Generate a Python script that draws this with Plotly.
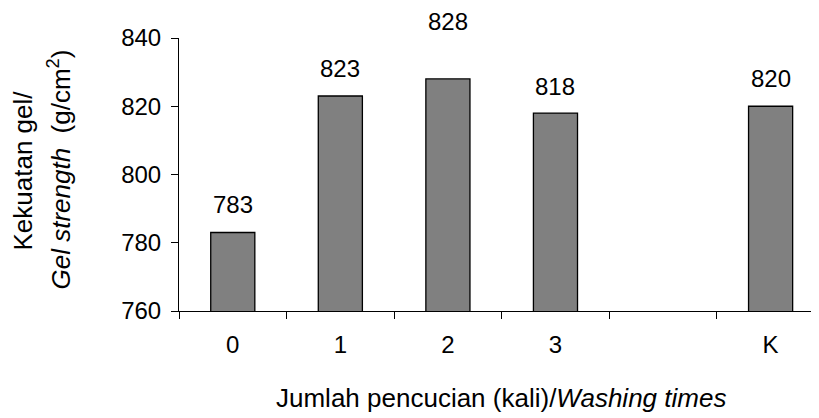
import plotly.graph_objects as go

categories = ["0", "1", "2", "3", " ", "K"]
values = [783, 823, 828, 818, None, 820]
value_labels = ["783", "823", "828", "818", "", "820"]
label_shift = [28, 28, 57, 27, 0, 28]  # style: pixel offset of value labels

y_ticks = [760, 780, 800, 820, 840]

FONT = "Liberation Sans, Arial, sans-serif"

# the page body has an 8px default margin; layout is offset to compensate
L, T = 171, 30

fig = go.Figure()
fig.add_trace(go.Bar(
    x=categories, y=values,
    marker=dict(color="#808080", line=dict(color="black", width=1.3)),
    width=0.41,
    showlegend=False,
))

for c, v, t, s in zip(categories, values, value_labels, label_shift):
    if v is None:
        continue
    fig.add_annotation(x=c, y=v, text=t, showarrow=False, xref="x", yref="y",
                       yanchor="middle", yshift=s,
                       font=dict(family=FONT, size=24, color="black"))

fig.add_annotation(text="Kekuatan gel/", textangle=-90, showarrow=False,
                   xref="paper", yref="paper", x=0, y=0.5, xanchor="center", yanchor="middle",
                   xshift=-157, yshift=4, font=dict(family=FONT, size=26, color="black"))
fig.add_annotation(text="<i>Gel strength</i>  (g/cm<sup>2</sup>)", textangle=-90, showarrow=False,
                   xref="paper", yref="paper", x=0, y=0.5, xanchor="center", yanchor="middle",
                   xshift=-119, yshift=5, font=dict(family=FONT, size=26, color="black"))
fig.add_annotation(text="Jumlah pencucian (kali)/<i>Washing times</i>", showarrow=False,
                   xref="paper", yref="paper", x=0, y=0, xanchor="center", yanchor="middle",
                   xshift=322, yshift=-87, font=dict(family=FONT, size=26, color="black"))

fig.update_xaxes(
    type="category", categoryorder="array", categoryarray=categories,
    range=[-0.5, 5.45],
    showline=True, linecolor="black", linewidth=1,
    ticks="outside", tickson="boundaries", ticklen=7, tickcolor="black", tickwidth=1,
    ticklabelstandoff=12,
    tickfont=dict(family=FONT, size=24, color="black"),
    showgrid=False, zeroline=False,
)
fig.update_yaxes(
    range=[760, 840], tickvals=y_ticks, ticktext=[str(v) for v in y_ticks],
    showline=True, linecolor="black", linewidth=1,
    ticks="outside", ticklen=7, tickcolor="black", tickwidth=1,
    ticklabelstandoff=5,
    tickfont=dict(family=FONT, size=24, color="black"),
    showgrid=False, zeroline=False,
)
fig.update_layout(
    width=811, height=410,
    margin=dict(l=L, r=0, t=T, b=107),
    plot_bgcolor="white", paper_bgcolor="white",
    bargap=0.59,
)
fig.write_html("out.html")
